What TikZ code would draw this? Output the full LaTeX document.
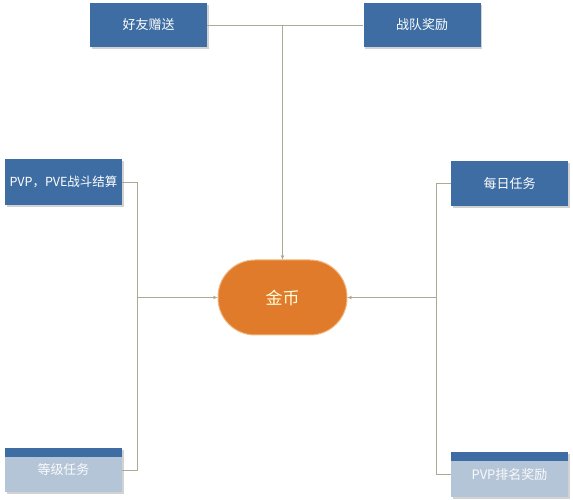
\documentclass[tikz,border=0pt]{standalone}
\usepackage{fontspec}
\setmainfont{Noto Sans CJK SC}
\usetikzlibrary{arrows.meta, shadows}
\definecolor{boxblue}{HTML}{3E6DA3}
\definecolor{fadeblue}{HTML}{B5C5D8}
\definecolor{coinorange}{HTML}{E07B2C}
\definecolor{coinedge}{HTML}{F2B77E}
\definecolor{linkgray}{HTML}{ABAA92}
\definecolor{tipgreen}{HTML}{6E7F5E}

\begin{document}
\begin{tikzpicture}[x=1pt, y=1pt,
    srcbox/.style={fill=boxblue, text=white, minimum width=117pt, minimum height=44pt,
        inner sep=0pt, font=\fontsize{13}{15}\selectfont,
        drop shadow={shadow xshift=1.5pt, shadow yshift=-2pt, fill=black!35}},
    fadebox/.style={srcbox, fill=fadeblue, text=white!92!fadeblue,
        path picture={\fill[boxblue] (path picture bounding box.north west) rectangle ([yshift=-9pt]path picture bounding box.north east);}},
    link/.style={draw=linkgray, line width=0.9pt},
    tolink/.style={link, -{Stealth[length=4.5pt, width=3.5pt, fill=tipgreen]}}]
    \useasboundingbox (0,0) rectangle (573,500);
    % income sources
    \node(friend)[srcbox] at (148.5, 475) {好友赠送};
    \node(team)[srcbox] at (422, 475) {战队奖励};
    \node(pvp)[srcbox, minimum height=46pt, font=\fontsize{12.5}{15}\selectfont] at (63.5, 318) {PVP，PVE战斗结算};
    \node(daily)[srcbox, minimum height=45pt] at (509.5, 316.5) {每日任务};
    \node(level)[fadebox] at (63.5, 30) {等级任务};
    \node(rank)[fadebox, minimum height=45pt] at (509.5, 25.5) {PVP排名奖励};
    % gold coins
    \node(coin)[fill=coinorange, draw=coinedge, line width=1pt, rounded corners=37pt,
        minimum width=129pt, minimum height=75pt, text=white!85!yellow,
        font=\fontsize{17}{20}\selectfont] at (282.5, 202.5) {金币};
    % joints
    \coordinate(top) at (coin |- friend.east);
    \coordinate(lbot) at (137, 0 |- level.east);
    \coordinate(lmid) at (137, 0 |- coin.west);
    \coordinate(rbot) at (436, 0 |- rank.west);
    \coordinate(rmid) at (436, 0 |- coin.east);
    \draw[link] (friend.east) -- (team.west);
    \draw[tolink] (top) -- (coin.north);
    \draw[link] (pvp.east) -| (lbot) -- (level.east);
    \draw[tolink] (lmid) -- (coin.west);
    \draw[link] (daily.west) -| (rbot) -- (rank.west);
    \draw[tolink] (rmid) -- (coin.east);
\end{tikzpicture}
\end{document}
